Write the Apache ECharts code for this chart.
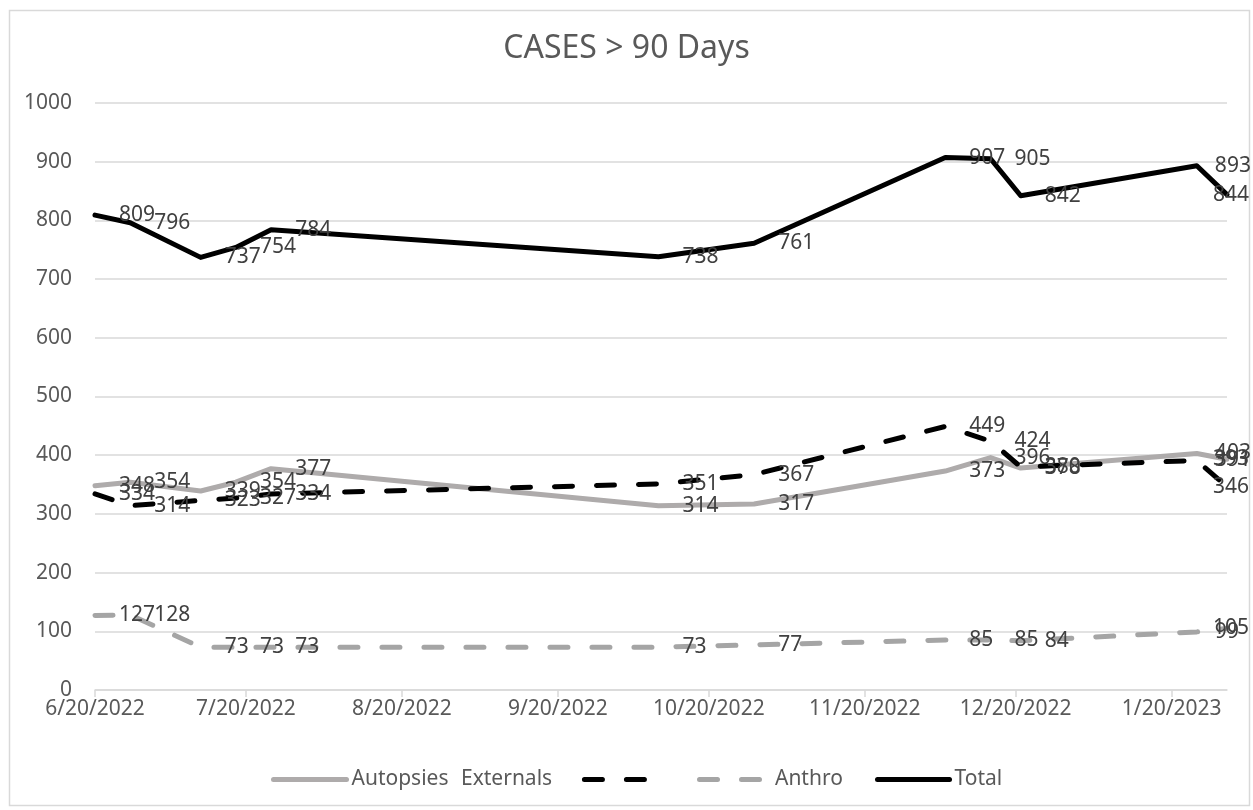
<!DOCTYPE html>
<html>
<head>
<meta charset="utf-8">
<script src="https://cdn.jsdelivr.net/npm/echarts@6/dist/echarts.min.js"></script>
<style>
html,body{margin:0;padding:0;background:#fff;}
#chart{width:1253px;height:810px;}
</style>
</head>
<body>
<div id="chart"></div>
<script>
// ---- data ----
const dates = ['2022-06-20','2022-06-27','2022-07-11','2022-07-18','2022-07-25','2022-10-10','2022-10-29','2022-12-06','2022-12-15','2022-12-21','2023-01-25','2023-01-31'];
const autopsies = [348, 354, 339, 354, 377, 314, 317, 373, 396, 378, 403, 393];
const externals = [334, 314, 323, 327, 334, 351, 367, 449, 424, 380, 391, 346];
const anthro    = [127, 128, 73, 73, 73, 73, 77, 85, 85, 84, 99, 105];
const total     = [809, 796, 737, 754, 784, 738, 761, 907, 905, 842, 893, 844];
const tickDates = ['2022-06-20','2022-07-20','2022-08-20','2022-09-20','2022-10-20','2022-11-20','2022-12-20','2023-01-20'];
const yTicks = [0, 100, 200, 300, 400, 500, 600, 700, 800, 900, 1000];
const seriesNames = ['Autopsies', 'Externals', 'Anthro', 'Total'];
const titleText = 'CASES > 90 Days';

function ts(s){ const p = s.split('-').map(Number); return Date.UTC(p[0], p[1]-1, p[2]); }
const xs = dates.map(ts);
const tickTs = tickDates.map(ts);

const FONT = 'Noto Sans';
const LABEL_COLOR = '#404040';
const FS = 21;
const LW = 5;

// labels near the right edge are pulled back inside the chart (as the original does)
function build(values){
  const n = values.length;
  return values.map((v, i) => {
    const item = { value: [xs[i], v] };
    if (i === n - 1) item.label = { offset: [-38, 0] };
    else if (i === n - 2) item.label = { offset: [-6, 0] };
    return item;
  });
}

function lineSeries(name, values, color, dashed, z){
  return {
    name: name,
    type: 'line',
    data: build(values),
    z: z,
    symbol: 'circle',
    symbolSize: 0.1,
    showSymbol: true,
    itemStyle: { color: 'rgba(0,0,0,0)', borderWidth: 0 },
    lineStyle: dashed
      ? { color: color, width: LW, type: [18, 24], cap: 'round', join: 'round' }
      : { color: color, width: LW, cap: 'round', join: 'round' },
    label: {
      show: true, position: 'right', distance: 24,
      color: LABEL_COLOR, fontSize: FS, fontFamily: FONT,
      formatter: p => p.value[1]
    },
    emphasis: { disabled: true },
    animation: false
  };
}

const legendText = { color: '#595959', fontSize: FS, fontFamily: FONT };
function legend(name, left, width, align, formatter){
  return {
    data: [name], left: left, top: 769, itemWidth: width, itemHeight: 20,
    align: align, textStyle: legendText, selectedMode: false,
    formatter: formatter || (n => n), itemGap: 0, padding: 0,
    lineStyle: { width: LW, cap: 'round' }
  };
}

const chart = echarts.init(document.getElementById('chart'));
chart.setOption({
  backgroundColor: '#fff',
  animation: false,
  title: {
    text: titleText, left: 'center', top: 28,
    textStyle: { color: '#595959', fontSize: 32, fontWeight: 'normal', fontFamily: FONT }
  },
  graphic: [{
    type: 'rect', left: 7, top: 8, shape: { width: 1240, height: 795 },
    style: { fill: 'none', stroke: '#d9d9d9', lineWidth: 1.5 }, silent: true, z: -10
  }],
  legend: [
    legend('Autopsies', 271, 73, 'left'),
    legend('Externals', 461, 65, 'right', n => n + '     '),
    legend('Anthro', 697, 65, 'left', n => ' ' + n),
    legend('Total', 875, 72, 'left')
  ],
  grid: { left: 95, right: 26, top: 103, bottom: 120, containLabel: false },
  xAxis: {
    type: 'value',
    min: xs[0], max: xs[xs.length - 1],
    axisLine: { show: true, lineStyle: { color: '#d9d9d9', width: 1.5 } },
    axisTick: { show: true, customValues: tickTs, length: 7, lineStyle: { color: '#d9d9d9', width: 1.5 } },
    axisLabel: {
      customValues: tickTs, color: '#595959', fontSize: FS, fontFamily: FONT, margin: 9,
      formatter: v => { const d = new Date(v); return (d.getUTCMonth()+1) + '/' + d.getUTCDate() + '/' + d.getUTCFullYear(); }
    },
    splitLine: { show: false }
  },
  yAxis: {
    type: 'value', min: yTicks[0], max: yTicks[yTicks.length - 1], interval: 100,
    axisLine: { show: false }, axisTick: { show: false },
    axisLabel: { color: '#595959', fontSize: FS, fontFamily: FONT, margin: 23, formatter: v => String(v) },
    splitLine: { lineStyle: { color: '#d9d9d9', width: 1.5 } }
  },
  series: [
    lineSeries(seriesNames[0], autopsies, '#AEABAB', false, 2),
    lineSeries(seriesNames[1], externals, '#000000', true, 3),
    lineSeries(seriesNames[2], anthro, '#A5A5A5', true, 4),
    lineSeries(seriesNames[3], total, '#000000', false, 5)
  ]
});
</script>
</body>
</html>
